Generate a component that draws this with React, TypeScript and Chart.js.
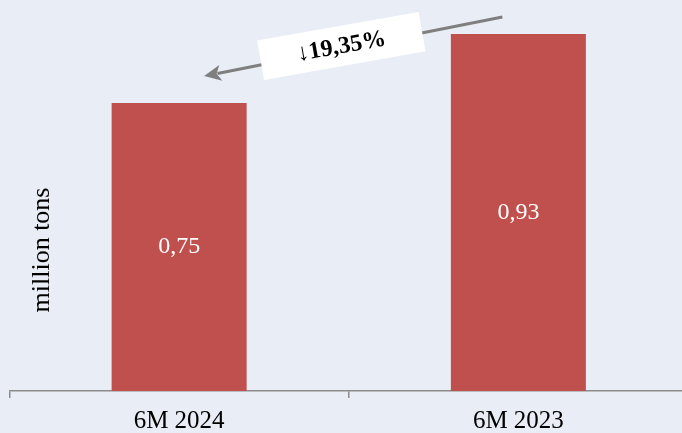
import { useEffect, useRef } from 'react';
import { Chart, registerables } from 'chart.js';

Chart.register(...registerables);

// Half-year shipments, million tons
const categories = ['6M 2024', '6M 2023'];
const volumes = [0.75, 0.93];
const valueLabels = ['0,75', '0,93'];
const changeLabel = '↓19,35%';
const axisTitle = 'million tons';
const yMin = 0;
const yMax = 1;

const BG = '#e9edf5';
const BAR = '#c0504d';
const AXIS = '#8c8c8c';
const SERIF = '"Liberation Serif", "DejaVu Serif", serif';

// The plot runs a few pixels past the visible right edge
const CANVAS_W = 688;
const CANVAS_H = 433;

const backgroundPlugin = {
  id: 'pageBackground',
  beforeDraw(chart: any) {
    const { ctx, width, height } = chart;
    ctx.save();
    ctx.fillStyle = BG;
    ctx.fillRect(0, 0, width, height);
    ctx.restore();
  },
};

// White values centred inside each bar
const valueLabelPlugin = {
  id: 'valueLabels',
  afterDatasetsDraw(chart: any) {
    const { ctx } = chart;
    const meta = chart.getDatasetMeta(0);
    ctx.save();
    ctx.fillStyle = '#ffffff';
    ctx.font = `24px ${SERIF}`;
    ctx.textAlign = 'center';
    ctx.textBaseline = 'middle';
    meta.data.forEach((bar: any, i: number) => {
      ctx.fillText(valueLabels[i], bar.x, (bar.y + bar.base) / 2);
    });
    ctx.restore();
  },
};

// Rotated y-axis caption drawn over the left margin
const axisTitlePlugin = {
  id: 'axisTitle',
  afterDraw(chart: any) {
    const { ctx, chartArea } = chart;
    ctx.save();
    ctx.translate(chartArea.left + 33, chartArea.bottom - 141);
    ctx.rotate(-Math.PI / 2);
    ctx.fillStyle = '#000000';
    ctx.font = `26px ${SERIF}`;
    ctx.textAlign = 'center';
    ctx.textBaseline = 'middle';
    ctx.fillText(axisTitle, 0, 0);
    ctx.restore();
  },
};

// Arrow from the 2023 bar towards the 2024 bar with the change callout
const changeArrowPlugin = {
  id: 'changeArrow',
  afterDraw(chart: any) {
    const { ctx } = chart;
    const xs = chart.scales.x;
    const ys = chart.scales.y;
    const sx = xs.getPixelForValue(1) - 16;
    const sy = ys.getPixelForValue(0.974);
    const ex = xs.getPixelForValue(0) + 25;
    const ey = ys.getPixelForValue(0.82);
    const ang = Math.atan2(ey - sy, ex - sx);
    const headLen = 17;
    const headHalf = 8;

    ctx.save();
    ctx.strokeStyle = '#7f7f7f';
    ctx.fillStyle = '#7f7f7f';
    ctx.lineWidth = 3;
    ctx.beginPath();
    ctx.moveTo(sx, sy);
    ctx.lineTo(ex - Math.cos(ang) * headLen * 0.8, ey - Math.sin(ang) * headLen * 0.8);
    ctx.stroke();

    ctx.beginPath();
    ctx.moveTo(ex, ey);
    ctx.lineTo(
      ex - Math.cos(ang) * headLen - Math.sin(ang) * headHalf,
      ey - Math.sin(ang) * headLen + Math.cos(ang) * headHalf
    );
    ctx.lineTo(
      ex - Math.cos(ang) * headLen * 0.75,
      ey - Math.sin(ang) * headLen * 0.75
    );
    ctx.lineTo(
      ex - Math.cos(ang) * headLen + Math.sin(ang) * headHalf,
      ey - Math.sin(ang) * headLen - Math.cos(ang) * headHalf
    );
    ctx.closePath();
    ctx.fill();

    const t = 0.54;
    const cx = sx + (ex - sx) * t;
    const cy = sy + (ey - sy) * t - 3;
    ctx.translate(cx, cy);
    ctx.rotate(Math.atan2(sy - ey, sx - ex) + 0.02);
    ctx.fillStyle = '#ffffff';
    ctx.fillRect(-82, -20, 164, 40);
    ctx.fillStyle = '#000000';
    ctx.font = `bold 24px ${SERIF}`;
    ctx.textAlign = 'center';
    ctx.textBaseline = 'middle';
    ctx.fillText(changeLabel, 0, 1);
    ctx.restore();
  },
};

export default function App() {
  const canvasRef = useRef<HTMLCanvasElement | null>(null);

  useEffect(() => {
    if (!canvasRef.current) return;
    const chart = new Chart(canvasRef.current, {
      type: 'bar',
      data: {
        labels: categories,
        datasets: [
          {
            data: volumes,
            backgroundColor: BAR,
            borderWidth: 0,
            barPercentage: 0.398,
            categoryPercentage: 1,
          },
        ],
      },
      options: {
        responsive: false,
        animation: false,
        layout: { padding: { left: 9.5, top: 7, right: 0, bottom: -11 } },
        plugins: {
          legend: { display: false },
          tooltip: { enabled: false },
        },
        scales: {
          x: {
            grid: {
              display: true,
              drawOnChartArea: false,
              drawTicks: true,
              tickLength: 7,
              color: AXIS,
              lineWidth: 1.5,
              offset: true,
            },
            border: { display: true, color: AXIS, width: 1.5 },
            ticks: {
              color: '#000000',
              font: { family: SERIF, size: 25 },
              padding: 8,
              maxRotation: 0,
            },
          },
          y: {
            display: false,
            min: yMin,
            max: yMax,
          },
        },
      },
      plugins: [backgroundPlugin, valueLabelPlugin, axisTitlePlugin, changeArrowPlugin],
    });
    return () => chart.destroy();
  }, []);

  return (
    <div
      style={{
        position: 'fixed',
        left: 0,
        top: 0,
        width: 682,
        height: 433,
        overflow: 'hidden',
        background: BG,
      }}
    >
      <canvas ref={canvasRef} width={CANVAS_W} height={CANVAS_H} style={{ display: 'block' }} />
    </div>
  );
}
